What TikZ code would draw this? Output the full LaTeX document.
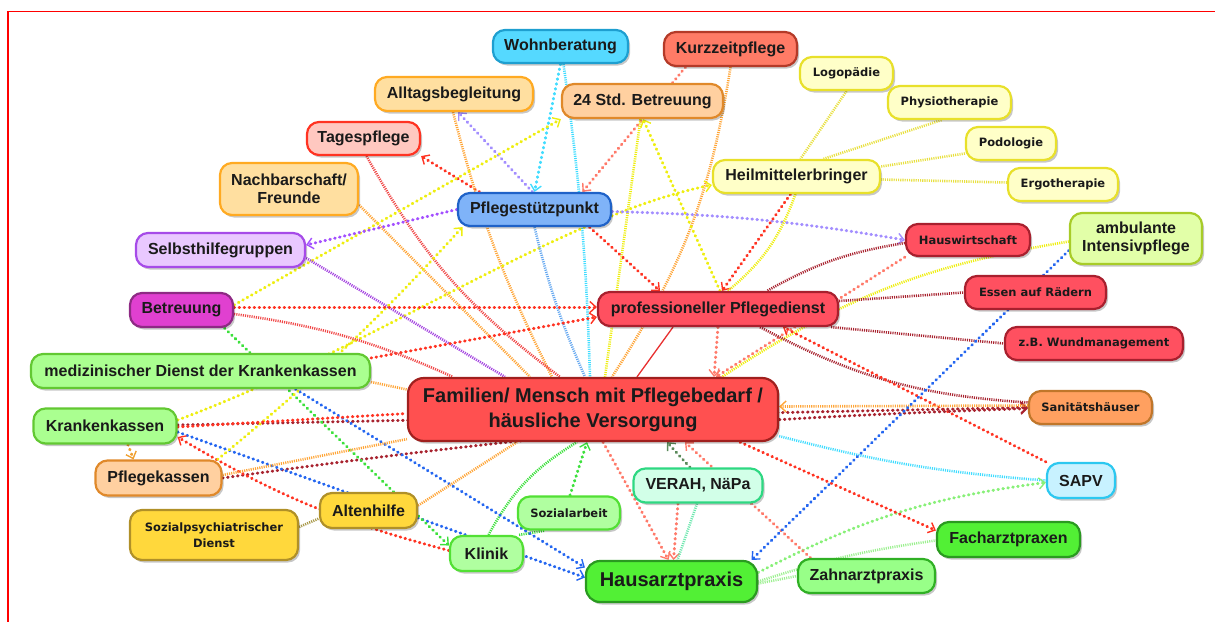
\documentclass[tikz,border=0pt]{standalone}
\usepackage{fontspec}
\newfontfamily\lsans{Liberation Sans}
\newfontfamily\dsans{DejaVu Sans}
\usetikzlibrary{arrows.meta,shadows,calc}
\pgfdeclarelayer{bg}
\pgfsetlayers{bg,main}
% node colours
\definecolor{fWohn}{HTML}{55D9FF}\definecolor{dWohn}{HTML}{1E9FD0}
\definecolor{fKurz}{HTML}{FF7B66}\definecolor{dKurz}{HTML}{B43A28}
\definecolor{fAllt}{HTML}{FFDFA0}\definecolor{dAllt}{HTML}{FFAA22}
\definecolor{fStd}{HTML}{FFD0A0}\definecolor{dStd}{HTML}{E0892A}
\definecolor{fYel}{HTML}{FFFFC8}\definecolor{dYel}{HTML}{E8E02A}
\definecolor{fTag}{HTML}{FFC8C0}\definecolor{dTag}{HTML}{FF3322}
\definecolor{fPsp}{HTML}{7FB3F8}\definecolor{dPsp}{HTML}{1F62C8}
\definecolor{fSelb}{HTML}{E9C8FF}\definecolor{dSelb}{HTML}{A64BE8}
\definecolor{fRedN}{HTML}{FF5060}\definecolor{dRedN}{HTML}{A8202E}
\definecolor{fAmb}{HTML}{E2FFA8}\definecolor{dAmb}{HTML}{A8CC28}
\definecolor{fBetr}{HTML}{E040D0}\definecolor{dBetr}{HTML}{8E2A84}
\definecolor{fMdk}{HTML}{AAFF90}\definecolor{dMdk}{HTML}{62C832}
\definecolor{fFam}{HTML}{FF5050}\definecolor{dFam}{HTML}{A0201E}
\definecolor{fSan}{HTML}{FFA060}\definecolor{dSan}{HTML}{C0762A}
\definecolor{fSapv}{HTML}{C8F2FF}\definecolor{dSapv}{HTML}{2CC8F0}
\definecolor{fVer}{HTML}{D2FFE8}\definecolor{dVer}{HTML}{2ED882}
\definecolor{fAlt}{HTML}{FFD83C}\definecolor{dAlt}{HTML}{B09028}
\definecolor{fSoz}{HTML}{B0FFA0}\definecolor{dSoz}{HTML}{52E034}
\definecolor{fArzt}{HTML}{52F035}\definecolor{dArzt}{HTML}{2A9A20}
\definecolor{fZahn}{HTML}{98FF88}\definecolor{dZahn}{HTML}{30B024}
% connector colours
\definecolor{cRedD}{HTML}{FF3322}
\definecolor{cSalm}{HTML}{FF7A6A}
\definecolor{cDR}{HTML}{A8232F}
\definecolor{cOrg}{HTML}{FFA537}
\definecolor{cOrgD}{HTML}{F0A030}
\definecolor{cYel}{HTML}{EEEE10}
\definecolor{cYelF}{HTML}{E8E040}
\definecolor{cLav}{HTML}{A38EFF}
\definecolor{cPurp}{HTML}{A350FF}
\definecolor{cPurpF}{HTML}{A444E0}
\definecolor{cCyan}{HTML}{40DCFF}
\definecolor{cBlueF}{HTML}{66A8F0}
\definecolor{cBlue}{HTML}{2466F0}
\definecolor{cGreen}{HTML}{3CE03C}
\definecolor{cLGreen}{HTML}{88F078}
\definecolor{cLGreenF}{HTML}{9CF090}
\definecolor{cMint}{HTML}{70E8B0}
\definecolor{cDGreen}{HTML}{5A8A5A}
\definecolor{cOlive}{HTML}{A89848}
\definecolor{cRedF}{HTML}{F04848}
\definecolor{cRedS}{HTML}{E83030}
\definecolor{cFrame}{HTML}{FF0000}
\definecolor{cText}{HTML}{1A1A1A}
\tikzset{
  box/.style={rounded corners=12pt, line width=2.2pt, inner sep=0pt, align=center,
    text=cText, drop shadow={shadow xshift=2pt, shadow yshift=-2.5pt, opacity=0.22, fill=black}},
  big/.style={font=\lsans\bfseries\fontsize{16}{18.5}\selectfont},
  huge/.style={font=\lsans\bfseries\fontsize{20}{25}\selectfont},
  sm/.style={font=\dsans\bfseries\fontsize{11.5}{16}\selectfont},
  dots/.style={line width=3pt, dash pattern=on 0.6pt off 4.4pt, line cap=round},
  fine/.style={line width=2.6pt, dash pattern=on 1.1pt off 1.1pt},
  arr/.style={-{Straight Barb[length=6pt,width=11pt,line width=1.4pt]}},
}
\begin{document}
\begin{tikzpicture}[x=1pt,y=-1pt]
\useasboundingbox (0,0) rectangle (1215,621);
\draw[cFrame, line width=1.6pt] (8,630) -- (8,11.5) -- (1222,11.5);

% ---------------- nodes ----------------
\node[box,big,minimum width=135pt,minimum height=33pt,fill=fWohn,draw=dWohn] (wohn) at (560.5,46.5) {Wohnberatung};
\node[box,big,minimum width=133pt,minimum height=34pt,fill=fKurz,draw=dKurz] (kurz) at (730.5,49) {Kurzzeitpflege};
\node[box,big,minimum width=158pt,minimum height=34pt,fill=fAllt,draw=dAllt] (alltag) at (454,94) {Alltagsbegleitung};
\node[box,big,minimum width=161pt,minimum height=34pt,fill=fStd,draw=dStd] (h24) at (642.5,101) {24 Std. Betreuung};
\node[box,sm,minimum width=93pt,minimum height=33pt,fill=fYel,draw=dYel] (logo) at (846.5,73.5) {Logopädie};
\node[box,sm,minimum width=123pt,minimum height=33pt,fill=fYel,draw=dYel] (physio) at (949.5,102.5) {Physiotherapie};
\node[box,sm,minimum width=90pt,minimum height=33pt,fill=fYel,draw=dYel] (podo) at (1011,143.5) {Podologie};
\node[box,sm,minimum width=110pt,minimum height=33pt,fill=fYel,draw=dYel] (ergo) at (1063,184.5) {Ergotherapie};
\node[box,big,minimum width=167pt,minimum height=33pt,fill=fYel,draw=dYel] (heil) at (796.5,176.5) {Heilmittelerbringer};
\node[box,big,minimum width=113pt,minimum height=33pt,fill=fTag,draw=dTag] (tages) at (363.5,138.5) {Tagespflege};
\node[box,big,minimum width=138pt,minimum height=52pt,fill=fAllt,draw=dAllt] (nach) at (289,189) {Nachbarschaft/\\Freunde};
\node[box,big,minimum width=153pt,minimum height=33pt,fill=fPsp,draw=dPsp] (psp) at (534.5,209.5) {Pflegestützpunkt};
\node[box,big,minimum width=169pt,minimum height=34pt,fill=fSelb,draw=dSelb] (selbst) at (220.5,250) {Selbsthilfegruppen};
\node[box,sm,minimum width=124pt,minimum height=32pt,fill=fRedN,draw=dRedN] (hausw) at (968,240) {Hauswirtschaft};
\node[box,big,minimum width=132pt,minimum height=51pt,fill=fAmb,draw=dAmb] (amb) at (1136,238.5) {ambulante\\Intensivpflege};
\node[box,big,minimum width=103pt,minimum height=34pt,fill=fBetr,draw=dBetr] (betr) at (181.5,310) {Betreuung};
\node[box,big,minimum width=240pt,minimum height=34pt,fill=fRedN,draw=dRedN] (prof) at (718,309) {professioneller Pflegedienst};
\node[box,sm,minimum width=141pt,minimum height=33pt,fill=fRedN,draw=dRedN] (essen) at (1035.5,292.5) {Essen auf Rädern};
\node[box,sm,minimum width=178pt,minimum height=33pt,fill=fRedN,draw=dRedN] (wund) at (1094,343.5) {z.B. Wundmanagement};
\node[box,big,minimum width=339pt,minimum height=34pt,fill=fMdk,draw=dMdk] (mdk) at (200.5,371) {medizinischer Dienst der Krankenkassen};
\node[box,huge,minimum width=370pt,minimum height=63pt,rounded corners=16pt,fill=fFam,draw=dFam] (fam) at (593,409.5) {Familien/ Mensch mit Pflegebedarf /\\häusliche Versorgung};
\node[box,sm,minimum width=123pt,minimum height=33pt,fill=fSan,draw=dSan] (sanit) at (1090.5,407.5) {Sanitätshäuser};
\node[box,big,minimum width=143pt,minimum height=35pt,fill=fMdk,draw=dMdk] (krank) at (105,426) {Krankenkassen};
\node[box,big,minimum width=126pt,minimum height=35pt,fill=fStd,draw=dStd] (pflegek) at (158.5,478) {Pflegekassen};
\node[box,big,minimum width=68pt,minimum height=35pt,fill=fSapv,draw=dSapv] (sapv) at (1081,480.5) {SAPV};
\node[box,big,minimum width=129pt,minimum height=34pt,fill=fVer,draw=dVer] (verah) at (698,485.5) {VERAH, NäPa};
\node[box,big,minimum width=97pt,minimum height=35pt,fill=fAlt,draw=dAlt] (alten) at (368.5,510.5) {Altenhilfe};
\node[box,sm,minimum width=168pt,minimum height=50pt,fill=fAlt,draw=dAlt] (sozpsy) at (214,535) {Sozialpsychiatrischer\\Dienst};
\node[box,sm,minimum width=102pt,minimum height=33pt,fill=fSoz,draw=dSoz] (sozarb) at (569,513) {Sozialarbeit};
\node[box,big,minimum width=73pt,minimum height=35pt,fill=fSoz,draw=dSoz] (klinik) at (486.5,553.5) {Klinik};
\node[box,big,minimum width=143pt,minimum height=35pt,fill=fArzt,draw=dArzt] (fach) at (1008.5,539.5) {Facharztpraxen};
\node[box,huge,minimum width=171pt,minimum height=41pt,rounded corners=14pt,fill=fArzt,draw=dArzt] (haus) at (671.5,581.5) {Hausarztpraxis};
\node[box,big,minimum width=137pt,minimum height=34pt,fill=fZahn,draw=dZahn] (zahn) at (866.5,576) {Zahnarztpraxis};

% ---------------- connectors ----------------
\begin{pgfonlayer}{bg}
% upper cluster
\draw[dots,cRedD,arr] ([xshift=-55pt]psp.north) -- (tages.south east);
\draw[dots,cLav,arr] ([xshift=-2pt]psp.north) -- ([xshift=4pt]alltag.south);
\draw[dots,cCyan,arr] (wohn.south) -- (psp.north);
\draw[fine,cCyan] ([xshift=3pt]wohn.south) to[bend left=3] ([xshift=-3pt]fam.north);
\draw[dots,cSalm,arr] ([xshift=-45pt]kurz.south) -- ([xshift=48pt]psp.north);
\draw[fine,cOrg] (kurz.south) to[bend left=12] ([xshift=19pt]fam.north);
\draw[fine,cOrg] ([xshift=-1pt]alltag.south) to[bend right=6] ([xshift=-41pt]fam.north);
\draw[fine,cOrg] ([yshift=-16pt]nach.east) -- ([xshift=-63pt]fam.north);
\draw[fine,cRedF] ([xshift=3pt]tages.south) to[bend right=12] ([xshift=-33pt]fam.north);
\draw[dots,cYel,arr] ([yshift=5pt]betr.east) -- (h24.south west);
\draw[dots,cYel,arr] ([yshift=6pt]krank.east) .. controls (380,345) and (560,215) .. ([yshift=-8.5pt]heil.west);
\draw[fine,cBlueF] (psp.south) to[bend right=5] ([xshift=-8pt]fam.north);
\draw[dots,cYel,arr] ([xshift=2pt]prof.north) -- ([xshift=0.5pt]h24.south);
\draw[fine,cYel] ([xshift=-2pt]h24.south) -- ([xshift=12pt]fam.north);
\draw[dots,cRedD,arr] ([xshift=55pt]psp.south) -- ([xshift=-58pt]prof.north);
\draw[dots,cLav,arr] ([yshift=-2pt]psp.east) to[bend left=4] (hausw.west);
\draw[dots,cPurp,arr] (psp.west) -- ([yshift=5pt]selbst.east);
\draw[fine,cPurpF] ([yshift=-8pt]selbst.east) -- ([xshift=-88pt]fam.north);
% Heilmittelerbringer
\draw[fine,cYelF] (logo.south) -- ([xshift=4pt]heil.north);
\draw[fine,cYelF] ([xshift=-8pt]physio.south) -- ([xshift=27pt]heil.north);
\draw[fine,cYelF] ([yshift=-10pt]podo.west) -- ([yshift=10pt]heil.east);
\draw[fine,cYelF] ([yshift=2pt]ergo.west) -- ([yshift=-3pt]heil.east);
\draw[dots,cRedD,arr] ([xshift=-6pt]heil.south) -- ([xshift=4pt]prof.north);
\draw[fine,cYel] ([xshift=-1pt]heil.south) to[bend left=15] ([xshift=10pt]prof.north);
% right side
\draw[fine,cYel] ([yshift=-3pt]amb.west) to[bend right=12] ([xshift=129pt]fam.north);
\draw[fine,cDR] ([yshift=-3pt]hausw.west) to[bend right=10] ([xshift=49pt]prof.north);
\draw[dots,cSalm,arr] (hausw.south west) -- ([xshift=123pt]fam.north);
\draw[dots,cSalm,arr] (prof.south) -- ([xshift=121pt]fam.north);
\draw[cRedS,line width=1.3pt] ([xshift=44pt]fam.north) -- ([xshift=-45pt]prof.south);
\draw[fine,cDR] ([yshift=8pt]prof.east) -- (essen.west);
\draw[fine,cDR] ([xshift=-8pt]prof.south east) -- (wund.west);
\draw[fine,cDR] ([xshift=42pt]prof.south) to[bend right=12] ([yshift=5pt]sanit.west);
\draw[dots,cRedD,arr] (sapv.north west) -- ([xshift=65pt]prof.south);
\draw[dots,cDR,arr] ([yshift=1pt]krank.east) -- (sanit.west);
\draw[dots,cDR,arr] (pflegek.east) to[bend left=3] ([yshift=-1pt]sanit.west);
\draw[fine,cOrg,arr] ([yshift=2pt]sanit.west) -- ([yshift=3pt]fam.east);
\draw[fine,cCyan] ([yshift=6pt]fam.south east) to[bend right=5] (sapv.west);
% lower cluster
\draw[dots,cLGreen,arr] ([yshift=9pt]haus.east) to[bend left=10] ([yshift=-2pt]sapv.west);
\draw[fine,cLGreenF] (haus.east) to[bend left=5] ([yshift=-1pt]fach.west);
\draw[fine,cLGreenF] ([yshift=-2pt]haus.east) -- (zahn.west);
\draw[dots,cRedD,arr] ([xshift=147pt]fam.south) -- ([yshift=9pt]fach.west);
\draw[dots,cSalm,arr] ([xshift=-56pt]zahn.north) -- ([xshift=92pt]fam.south);
\draw[dots,cDGreen,arr] ([xshift=-8pt]verah.north) -- ([xshift=74pt]fam.south);
\draw[dots,cSalm,arr] ([xshift=10pt]fam.south) -- ([xshift=-3pt]haus.north);
\draw[dots,cSalm,arr] ([xshift=-20pt]verah.south) -- ([xshift=2pt]haus.north);
\draw[fine,cMint] ([xshift=-1pt]verah.south) -- ([xshift=6pt]haus.north);
\draw[dots,cGreen,arr] ([xshift=1pt]sozarb.north) -- ([xshift=-6pt]fam.south);
\draw[fine,cGreen] ([xshift=2pt]klinik.north) to[bend left=15] ([xshift=-16pt]fam.south);
\draw[fine,cGreen] ([xshift=-5pt]klinik.north east) -- ([xshift=-24pt]sozarb.south);
\draw[dots,cBlue,arr] ([yshift=-6pt]krank.east) -- ([yshift=4pt]haus.west);
\draw[dots,cBlue,arr] ([xshift=95pt]mdk.south) -- ([yshift=14pt]haus.west);
\draw[dots,cBlue,arr] ([yshift=-12pt]amb.west) -- ([xshift=80pt]haus.north);
\draw[dots,cRedD,arr] ([yshift=3pt]klinik.west) to[bend left=8] ([yshift=-11pt]krank.east);
\draw[dots,cGreen,arr] ([xshift=43pt]betr.south) -- ([yshift=8pt]klinik.west);
\draw[dots,cOrgD,arr] ([xshift=23pt]krank.south) -- ([xshift=-25pt]pflegek.north);
\draw[dots,cYel,arr] ([xshift=-5pt]pflegek.north east) to[bend right=4] ([xshift=-72pt]psp.south);
\draw[fine,cOrg] ([yshift=3pt]pflegek.east) -- ([yshift=3pt]fam.south west);
\draw[fine,cOrg] ([yshift=-11pt]mdk.east) -- ([yshift=20pt]fam.west);
\draw[dots,cRedD] ([yshift=-1pt]krank.east) -- ([yshift=-4pt]fam.west);
\draw[dots,cRedD,arr] ([yshift=13pt]mdk.east) -- ([yshift=-8pt]prof.west);
\draw[dots,cRedD,arr] ([yshift=3pt]betr.east) -- ([yshift=2pt]prof.west);
\draw[fine,cRedF] ([yshift=-4pt]betr.east) to[bend left=8] ([xshift=-140pt]fam.north);
\draw[fine,cOrg] ([yshift=5pt]alten.east) -- ([xshift=-76pt]fam.south);
\draw[fine,cOlive] ([yshift=8pt]sozpsy.east) -- ([yshift=-8pt]alten.west);
\end{pgfonlayer}
\end{tikzpicture}
\end{document}
